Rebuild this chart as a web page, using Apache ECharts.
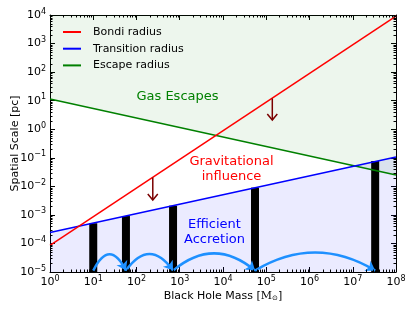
<!DOCTYPE html>
<html><head><meta charset="utf-8">
<script src="https://cdn.jsdelivr.net/npm/echarts@6/dist/echarts.min.js"></script>
<style>html,body{margin:0;padding:0;background:#fff;}#c{width:415px;height:312px;}</style>
</head><body><div id="c"></div>
<script>
// ---- data ----
const xRange = [1, 1e8];
const yRange = [1e-5, 1e4];
const seriesNames = ['Bondi radius', 'Transition radius', 'Escape radius'];
const bondiLine = [[1, 8.5e-5], [1e8, 9.1e3]];
const transitionLine = [[1, 2.4e-4], [1e8, 0.107]];
const escapeLine = [[1, 11.5], [1e8, 0.025]];
const barMasses = [10, 57, 700, 5.5e4, 3.3e7];
const barTops = [5.1e-4, 9.1e-4, 2.1e-3, 9.0e-3, 0.077];
const arcBase = 1.12e-5;
const arrowMasses = [238, 1.38e5];
const arrowStarts = [0.0205, 12];
const arrowEnds = [0.0033, 2.1];
const regionLabels = ['Gas Escapes', 'Gravitational\ninfluence', 'Efficient\nAccretion'];

// ---- styles ----
const arcCurveness = [1.0, 0.7, 0.42, 0.3];
const FONT = 'DejaVu Sans';

function sup(v) {
  const e = Math.round(Math.log10(v));
  return '10{s|' + (e < 0 ? '\u2212' + (-e) : e) + '}';
}
const richTick = { s: { fontSize: 8, fontFamily: FONT, verticalAlign: 'top', padding: [0, 0, 7, 0] } };

const chart = echarts.init(document.getElementById('c'), null, { renderer: 'canvas' });

function axisCommon(extra) {
  return Object.assign({
    type: 'log', logBase: 10, interval: 1,
    axisLine: { show: true, onZero: false, lineStyle: { color: '#000', width: 1 } },
    axisTick: { show: true, inside: true, length: 5, lineStyle: { color: '#000', width: 1 } },
    splitLine: { show: false },
  }, extra);
}

const TL = 2.5;
function minorTicks(params, api) {
  const bl = api.coord([xRange[0], yRange[0]]);
  const tr = api.coord([xRange[1], yRange[1]]);
  const left = bl[0], bottom = bl[1], right = tr[0], top = tr[1];
  const ch = [];
  const st = { stroke: '#000', lineWidth: 1 };
  for (let e = 0; e < 8; e++) {
    for (let k = 2; k <= 9; k++) {
      const x = Math.round(api.coord([k * Math.pow(10, e), yRange[0]])[0]) + 0.5;
      ch.push({ type: 'line', shape: { x1: x, y1: bottom, x2: x, y2: bottom - TL }, style: st });
      ch.push({ type: 'line', shape: { x1: x, y1: top, x2: x, y2: top + TL }, style: st });
    }
  }
  for (let e = -5; e < 4; e++) {
    for (let k = 2; k <= 9; k++) {
      const y = Math.round(api.coord([xRange[0], k * Math.pow(10, e)])[1]) + 0.5;
      ch.push({ type: 'line', shape: { x1: left, y1: y, x2: left + TL, y2: y }, style: st });
      ch.push({ type: 'line', shape: { x1: right, y1: y, x2: right - TL, y2: y }, style: st });
    }
  }
  return { type: 'group', children: ch };
}

const option = {
  animation: false,
  backgroundColor: '#fff',
  textStyle: { fontFamily: FONT },
  grid: { left: 50, right: 19, top: 15, bottom: 40, containLabel: false, outerBoundsMode: 'none' },
  legend: {
    data: seriesNames,
    orient: 'vertical', left: 63, top: 25.5, padding: 0,
    itemWidth: 18, itemHeight: 2, itemGap: 3.7, icon: 'rect',
    textStyle: { fontSize: 11, fontFamily: FONT, color: '#000', lineHeight: 13, padding: [0, 0, 0, 7] },
    selectedMode: false
  },
  xAxis: [
    axisCommon({
      min: xRange[0], max: xRange[1], position: 'bottom',
      axisLabel: { fontSize: 11, fontFamily: FONT, color: '#000', margin: 3, formatter: sup, rich: richTick },
      name: 'Black Hole Mass [{m|M}{o|\u2299}]', nameLocation: 'middle', nameGap: 19, nameMoveOverlap: false,
      nameTextStyle: { fontSize: 11, fontFamily: FONT, color: '#000', rich: {
        m: { fontSize: 11, fontFamily: 'DejaVu Serif', color: '#000' },
        o: { fontSize: 7, fontFamily: 'DejaVu Sans', color: '#000', verticalAlign: 'bottom', padding: [4, 0, 0, 0] } } }
    }),
    axisCommon({ min: xRange[0], max: xRange[1], position: 'top', axisLabel: { show: false } })
  ],
  yAxis: [
    axisCommon({
      min: yRange[0], max: yRange[1], position: 'left',
      axisLabel: { fontSize: 11, fontFamily: FONT, color: '#000', margin: 4, formatter: sup, rich: richTick },
      name: 'Spatial Scale [pc]', nameLocation: 'middle', nameGap: 29, nameMoveOverlap: false,
      nameTextStyle: { fontSize: 11, fontFamily: FONT, color: '#000' }
    }),
    axisCommon({ min: yRange[0], max: yRange[1], position: 'right', axisLabel: { show: false } })
  ],
  graphic: [
    { type: 'text', x: 177.5, y: 97, style: { text: regionLabels[0], fill: '#008000', font: '13px "DejaVu Sans"', align: 'center', verticalAlign: 'middle' }, z: 10 },
    { type: 'text', x: 231.5, y: 169, style: { text: regionLabels[1], fill: '#ff0000', font: '13px "DejaVu Sans"', align: 'center', verticalAlign: 'middle', lineHeight: 15 }, z: 10 },
    { type: 'text', x: 214.5, y: 232, style: { text: regionLabels[2], fill: '#0000ff', font: '13px "DejaVu Sans"', align: 'center', verticalAlign: 'middle', lineHeight: 14.5 }, z: 10 }
  ],
  series: [
    // region fills
    {
      type: 'line', data: escapeLine, symbol: 'none', z: 1, silent: true,
      lineStyle: { width: 0, opacity: 0 },
      areaStyle: { origin: 'end', color: 'rgba(0,128,0,0.1)' }
    },
    {
      type: 'line', data: transitionLine, symbol: 'none', z: 1, silent: true,
      lineStyle: { width: 0, opacity: 0 },
      areaStyle: { origin: 'start', color: 'rgba(0,0,255,0.11)' }
    },
    // black bars
    {
      type: 'custom', z: 2, silent: true,
      data: barMasses.map((m, i) => [m, barTops[i]]),
      renderItem: function (params, api) {
        const t = api.coord([api.value(0), api.value(1)]);
        const b = api.coord([api.value(0), yRange[0]]);
        return { type: 'rect', shape: { x: t[0] - 4, y: t[1], width: 8, height: b[1] - t[1] }, style: { fill: '#000' } };
      }
    },
    // lines
    {
      name: seriesNames[2], type: 'line', data: escapeLine, symbol: 'none', z: 3,
      itemStyle: { color: '#008000' },
      lineStyle: { color: '#008000', width: 1.5 }
    },
    {
      name: seriesNames[1], type: 'line', data: transitionLine, symbol: 'none', z: 3,
      itemStyle: { color: '#0000ff' },
      lineStyle: { color: '#0000ff', width: 1.5 }
    },
    {
      name: seriesNames[0], type: 'line', data: bondiLine, symbol: 'none', z: 4,
      itemStyle: { color: '#ff0000' },
      lineStyle: { color: '#ff0000', width: 1.5 }
    },
    // dark red downward arrows
    {
      type: 'custom', z: 6, silent: true,
      data: arrowMasses.map((m, i) => [m, arrowStarts[i], arrowEnds[i]]),
      renderItem: function (params, api) {
        const p0 = api.coord([api.value(0), api.value(1)]);
        const p1 = api.coord([api.value(0), api.value(2)]);
        const st = { stroke: '#7a0000', lineWidth: 1.5, fill: null };
        return { type: 'group', children: [
          { type: 'line', shape: { x1: p0[0], y1: p0[1], x2: p1[0], y2: p1[1] }, style: st },
          { type: 'polyline', shape: { points: [[p1[0] - 5, p1[1] - 6], [p1[0], p1[1]], [p1[0] + 5, p1[1] - 6]] }, style: st }
        ] };
      }
    },
    // blue curved arrows between bars
    {
      type: 'lines', coordinateSystem: 'cartesian2d', z: 7, silent: true, clip: false,
      symbol: ['none', 'arrow'], symbolSize: 9,
      lineStyle: { color: '#1e90ff', width: 2.5, opacity: 1 },
      data: barMasses.slice(0, -1).map((m, i) => ({
        coords: [[m, arcBase], [barMasses[i + 1], arcBase]],
        lineStyle: { curveness: arcCurveness[i] }
      }))
    },
    {
      type: 'custom', z: 8, silent: true, data: [[xRange[0], yRange[0]]],
      renderItem: minorTicks
    }
  ]
};
chart.setOption(option);
</script></body></html>
